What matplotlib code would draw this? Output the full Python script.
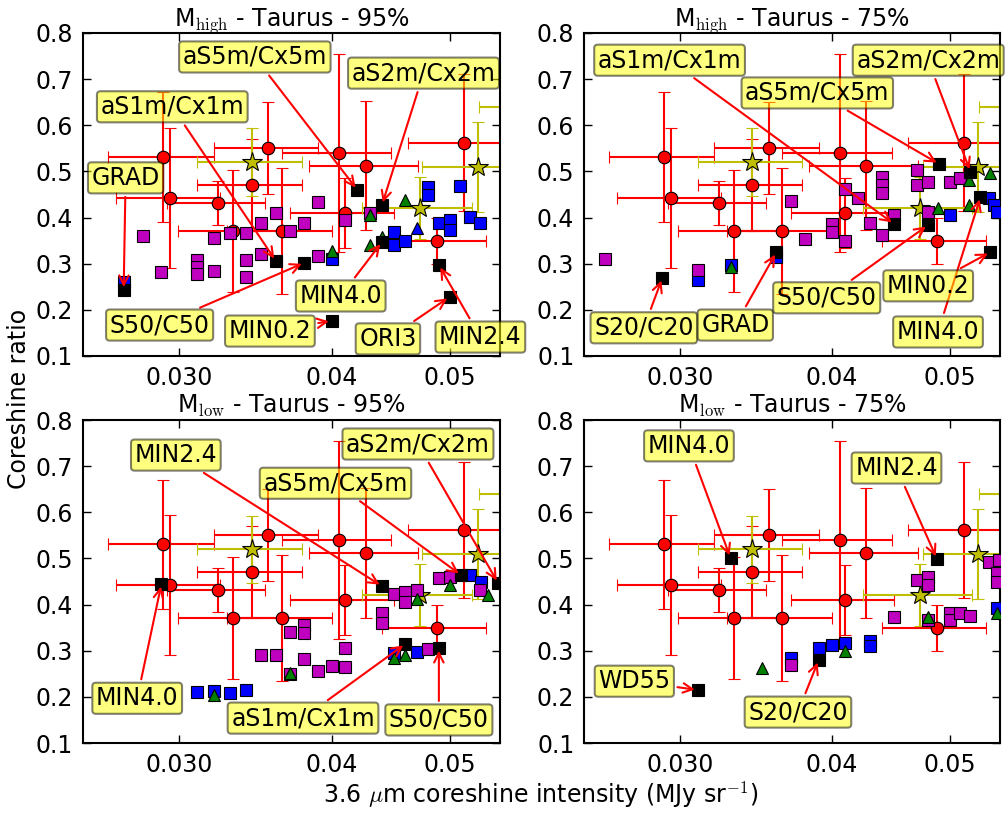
import numpy as np
import matplotlib
matplotlib.use('Agg')
import matplotlib.pyplot as plt
from matplotlib.ticker import NullLocator

plt.rcParams['mathtext.fontset'] = 'cm'
plt.rcParams['font.family'] = 'DejaVu Sans'

# observations (same in every panel)
obs_x = [0.0291, 0.0355, 0.0406, 0.0427, 0.0514, 0.0344, 0.0295, 0.0323, 0.0332, 0.0364, 0.0410, 0.0488]
obs_y = [0.531, 0.551, 0.540, 0.512, 0.562, 0.471, 0.442, 0.432, 0.371, 0.371, 0.410, 0.350]
obs_xerr = [0.0029, 0.0035, 0.0042, 0.0044, 0.0052, 0.0034, 0.0029, 0.0030, 0.0033, 0.0036, 0.0040, 0.0048]
obs_yerr = [0.14, 0.10, 0.215, 0.14, 0.148, 0.10, 0.152, 0.048, 0.133, 0.136, 0.076, 0.05]

star_x = [0.0344, 0.0528, 0.0473, 0.0600]
star_y = [0.520, 0.510, 0.420, 0.640]
star_xerr = [0.0034, 0.0053, 0.0049, 0.0071]
star_yerr = [0.073, 0.098, 0.067, 0.08]

# Mhigh - 95%
tl_mag_x = [0.0280, 0.0290, 0.0310, 0.0310, 0.0310, 0.0320, 0.0320, 0.0330, 0.0340, 0.0340,
            0.0340, 0.0350, 0.0350, 0.0360, 0.0370, 0.0380, 0.0390, 0.0390, 0.0410, 0.0430]
tl_mag_y = [0.360, 0.282, 0.308, 0.293, 0.278, 0.356, 0.284, 0.367, 0.367, 0.308,
            0.271, 0.388, 0.321, 0.410, 0.371, 0.388, 0.434, 0.317, 0.395, 0.410]
tl_blue_x = [0.0270, 0.0400, 0.0450, 0.0450, 0.0460, 0.0480, 0.0480, 0.0510, 0.0490, 0.0500, 0.0500, 0.0520, 0.0530]
tl_blue_y = [0.260, 0.310, 0.369, 0.341, 0.349, 0.466, 0.449, 0.468, 0.388, 0.395, 0.373, 0.401, 0.388]
tl_bluetri_x = [0.0470]
tl_bluetri_y = [0.377]
tl_green_x = [0.0400, 0.0430, 0.0460, 0.0430, 0.0440]
tl_green_y = [0.328, 0.406, 0.438, 0.341, 0.358]
tl_black_x = [0.0270, 0.0360, 0.0380, 0.0420, 0.0440, 0.0440, 0.0400, 0.0490, 0.0500]
tl_black_y = [0.243, 0.306, 0.302, 0.460, 0.427, 0.347, 0.176, 0.297, 0.228]
tl_labels = ['GRAD', 'aS1m/Cx1m', 'S50/C50', 'aS5m/Cx5m', 'aS2m/Cx2m', 'MIN4.0', 'MIN0.2', 'MIN2.4', 'ORI3']

# Mhigh - 75%
tr_mag_x = [0.0260, 0.0310, 0.0370, 0.0380, 0.0400, 0.0400, 0.0410, 0.0410, 0.0420, 0.0430, 0.0440,
            0.0450, 0.0440, 0.0440, 0.0440, 0.0470, 0.0470, 0.0480, 0.0480, 0.0500, 0.0510]
tr_mag_y = [0.310, 0.286, 0.436, 0.354, 0.386, 0.369, 0.349, 0.462, 0.442, 0.388, 0.362,
            0.406, 0.488, 0.471, 0.453, 0.503, 0.471, 0.477, 0.412, 0.477, 0.486]
tr_blue_x = [0.0310, 0.0330, 0.0360, 0.0500, 0.0539, 0.0544, 0.0547]
tr_blue_y = [0.265, 0.297, 0.314, 0.406, 0.442, 0.427, 0.412]
tr_green_x = [0.0330, 0.0489, 0.0519, 0.0519, 0.0540]
tr_green_y = [0.293, 0.421, 0.427, 0.481, 0.497]
tr_black_x = [0.0290, 0.0360, 0.0450, 0.0480, 0.0490, 0.0520, 0.0530, 0.0540]
tr_black_y = [0.269, 0.325, 0.386, 0.384, 0.516, 0.499, 0.445, 0.325]
tr_labels = ['S20/C20', 'GRAD', 'aS1m/Cx1m', 'S50/C50', 'aS5m/Cx5m', 'aS2m/Cx2m', 'MIN4.0', 'MIN0.2']

# Mlow - 95%
bl_mag_x = [0.0450, 0.0460, 0.0460, 0.0470, 0.0490, 0.0500, 0.0530, 0.0440, 0.0440, 0.0370, 0.0380,
            0.0380, 0.0350, 0.0360, 0.0380, 0.0390, 0.0400, 0.0410, 0.0410, 0.0370, 0.0480]
bl_mag_y = [0.423, 0.427, 0.406, 0.432, 0.458, 0.460, 0.432, 0.382, 0.360, 0.341, 0.356,
            0.338, 0.291, 0.291, 0.282, 0.256, 0.267, 0.265, 0.306, 0.250, 0.304]
bl_blue_x = [0.0520, 0.0531, 0.0310, 0.0320, 0.0330, 0.0340, 0.0470, 0.0450]
bl_blue_y = [0.464, 0.449, 0.210, 0.213, 0.208, 0.215, 0.297, 0.295]
bl_green_x = [0.0320, 0.0370, 0.0450, 0.0460, 0.0470, 0.0500, 0.0538]
bl_green_y = [0.204, 0.252, 0.284, 0.291, 0.412, 0.442, 0.421]
bl_black_x = [0.0290, 0.0440, 0.0511, 0.0548, 0.0460, 0.0490]
bl_black_y = [0.445, 0.440, 0.464, 0.447, 0.315, 0.306]
bl_labels = ['MIN4.0', 'MIN2.4', 'aS5m/Cx5m', 'aS2m/Cx2m', 'aS1m/Cx1m', 'S50/C50']

# Mlow - 75%
br_mag_x = [0.0470, 0.0480, 0.0480, 0.0539, 0.0549, 0.0547, 0.0547, 0.0450, 0.0480, 0.0500, 0.0500, 0.0510, 0.0520, 0.0370]
br_mag_y = [0.453, 0.460, 0.442, 0.492, 0.497, 0.468, 0.449, 0.373, 0.367, 0.382, 0.367, 0.382, 0.376, 0.269]
br_blue_x = [0.0370, 0.0390, 0.0400, 0.0410, 0.0430, 0.0430, 0.0547]
br_blue_y = [0.284, 0.306, 0.313, 0.317, 0.321, 0.310, 0.393]
br_green_x = [0.0350, 0.0410, 0.0480, 0.0547]
br_green_y = [0.262, 0.300, 0.373, 0.382]
br_black_x = [0.0330, 0.0488, 0.0310, 0.0390]
br_black_y = [0.501, 0.499, 0.215, 0.280]
br_labels = ['MIN4.0', 'MIN2.4', 'WD55', 'S20/C20']

titles = ['M$_\\mathrm{high}$ - Taurus - 95%', 'M$_\\mathrm{high}$ - Taurus - 75%',
          'M$_\\mathrm{low}$ - Taurus - 95%', 'M$_\\mathrm{low}$ - Taurus - 75%']
xticks = [0.03, 0.04, 0.05]
xticklabels = ['0.030', '0.04', '0.05']
yticks = [0.1, 0.2, 0.3, 0.4, 0.5, 0.6, 0.7, 0.8]

# where the label boxes sit (data coords)
tl_text = [(0.0271, 0.486), (0.0296, 0.640), (0.0289, 0.167), (0.0346, 0.748), (0.0476, 0.713),
           (0.0407, 0.230), (0.0356, 0.154), (0.0530, 0.141), (0.0445, 0.137)]
tr_text = [(0.0280, 0.161), (0.0333, 0.167), (0.0294, 0.741), (0.0396, 0.226), (0.0389, 0.670),
           (0.0480, 0.741), (0.0489, 0.152), (0.0480, 0.252)]
bl_text = [(0.0277, 0.197), (0.0298, 0.724), (0.0403, 0.663), (0.0471, 0.748), (0.0379, 0.154), (0.0490, 0.150)]
br_text = [(0.0305, 0.744), (0.0452, 0.696), (0.0275, 0.234), (0.0375, 0.167)]

fig = plt.figure(figsize=(10.08, 8.14), dpi=100)
rects = [[0.0823, 0.5627, 0.4137, 0.3968], [0.5794, 0.5627, 0.4127, 0.3968],
         [0.0823, 0.0872, 0.4137, 0.3968], [0.5794, 0.0872, 0.4127, 0.3968]]

panels = [
    (tl_mag_x, tl_mag_y, tl_blue_x, tl_blue_y, tl_green_x, tl_green_y, tl_black_x, tl_black_y, tl_labels, tl_text),
    (tr_mag_x, tr_mag_y, tr_blue_x, tr_blue_y, tr_green_x, tr_green_y, tr_black_x, tr_black_y, tr_labels, tr_text),
    (bl_mag_x, bl_mag_y, bl_blue_x, bl_blue_y, bl_green_x, bl_green_y, bl_black_x, bl_black_y, bl_labels, bl_text),
    (br_mag_x, br_mag_y, br_blue_x, br_blue_y, br_green_x, br_green_y, br_black_x, br_black_y, br_labels, br_text),
]

ms = 8.5
for i, (mx, my, bx, by, gx, gy, kx, ky, labs, txt) in enumerate(panels):
    ax = fig.add_axes(rects[i])
    ax.errorbar(obs_x, obs_y, xerr=obs_xerr, yerr=obs_yerr, fmt='o', color='r', ecolor='r',
                mec='k', mew=0.8, ms=9, capsize=4.5, elinewidth=1.5, capthick=1.5, zorder=2)
    ax.errorbar(star_x, star_y, xerr=star_xerr, yerr=star_yerr, fmt='*', color='y', ecolor='y',
                mec='k', mew=0.8, ms=15, capsize=4.5, elinewidth=1.5, capthick=1.5, zorder=2)
    ax.plot(bx, by, 's', color='b', mec='k', mew=0.8, ms=ms, zorder=3)
    if i == 0:
        ax.plot(tl_bluetri_x, tl_bluetri_y, '^', color='b', mec='k', mew=0.8, ms=ms, zorder=3)
    ax.plot(mx, my, 's', color='m', mec='k', mew=0.8, ms=ms, zorder=3)
    ax.plot(gx, gy, '^', color='g', mec='k', mew=0.8, ms=ms, zorder=3)
    ax.plot(kx, ky, 's', color='k', mec='k', mew=0.8, ms=ms, zorder=3)
    for lab, x, y, (tx, ty) in zip(labs, kx, ky, txt):
        ax.annotate(lab, xy=(x, y), xytext=(tx, ty), fontsize=17, ha='center', va='center',
                    bbox=dict(boxstyle='round,pad=0.15', fc='yellow', ec='k', lw=1.5, alpha=0.5),
                    arrowprops=dict(arrowstyle='->', color='r', lw=1.5),
                    annotation_clip=False, zorder=5)
    ax.set_xscale('log')
    ax.set_xlim(0.025, 0.055)
    ax.set_ylim(0.1, 0.8)
    ax.set_xticks(xticks)
    ax.set_xticklabels(xticklabels)
    ax.xaxis.set_minor_locator(NullLocator())
    ax.set_yticks(yticks)
    ax.set_yticklabels(['%.1f' % v for v in yticks])
    ax.tick_params(direction='in', top=True, right=True, length=6, width=1, labelsize=17, pad=7)
    for sp in ax.spines.values():
        sp.set_linewidth(1.5)
    ax.set_title(titles[i], fontsize=17, pad=5)

fig.text(0.019, 0.51, 'Coreshine ratio', rotation=90, fontsize=17, ha='center', va='center')
fig.text(0.536, 0.023, '3.6 $\\mu$m coreshine intensity (MJy sr$^{-1}$)', fontsize=17, ha='center', va='center')

fig.savefig('out.png', dpi=100)
